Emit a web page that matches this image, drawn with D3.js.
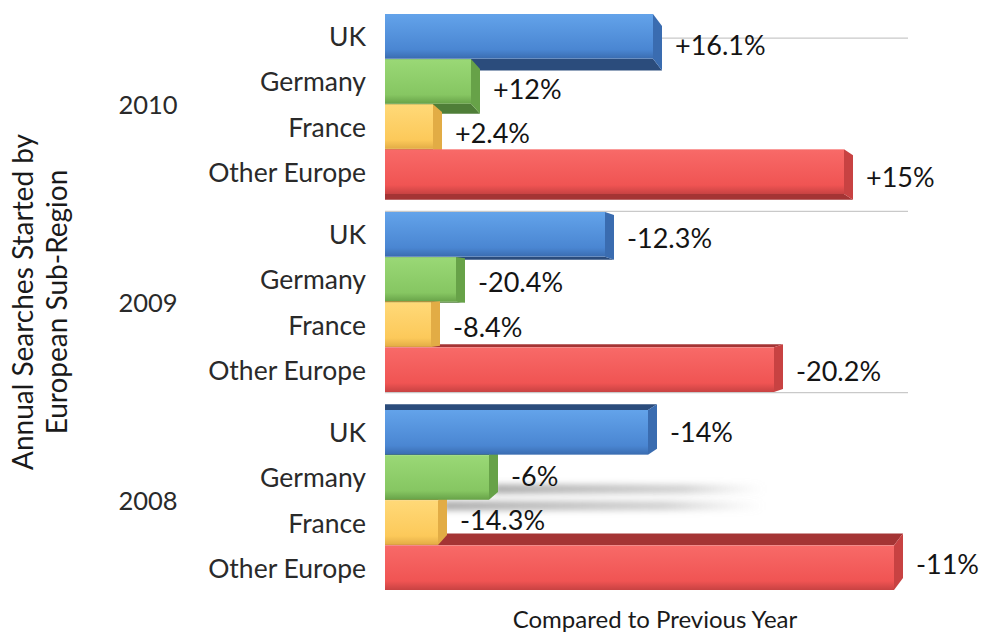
<!DOCTYPE html>
<html>
<head>
<meta charset="utf-8">
<script src="https://cdn.jsdelivr.net/npm/d3@7"></script>
<style>
  body { margin: 0; background: #fff; }
  text { font-family: "Lato", "Open Sans", sans-serif; }
</style>
</head>
<body>
<svg id="chart" width="984" height="635"></svg>
<script>
// Groups and categories
const years = ["2010", "2009", "2008"];
const regions = ["UK", "Germany", "France", "Other Europe"];

// Relative volume of annual searches started in each sub-region
const volume2010 = [277, 95, 57, 468];
const volume2009 = [229, 80, 55, 398];
const volume2008 = [272, 113, 62, 518];

// Change compared to the previous year
const change2010 = ["+16.1%", "+12%", "+2.4%", "+15%"];
const change2009 = ["-12.3%", "-20.4%", "-8.4%", "-20.2%"];
const change2008 = ["-14%", "-6%", "-14.3%", "-11%"];

const volumes = { "2010": volume2010, "2009": volume2009, "2008": volume2008 };
const changes = { "2010": change2010, "2009": change2009, "2008": change2008 };

const palette = {
  "UK":           { light: "#63a3ea", mid: "#4a86d2", dark: "#3a6cb0", deep: "#2b4c7c" },
  "Germany":      { light: "#9ad876", mid: "#86c662", dark: "#67a248", deep: "#4f7e38" },
  "France":       { light: "#ffd978", mid: "#fcc95a", dark: "#e2ac45", deep: "#b98a34" },
  "Other Europe": { light: "#f86a68", mid: "#f05453", dark: "#c84242", deep: "#a43434" }
};

const rows = years.flatMap(y => regions.map((r, i) => ({
  year: y, region: r, value: volumes[y][i], change: changes[y][i]
})));

const svg = d3.select("#chart");
const defs = svg.append("defs");

// Layout scales
const x = d3.scaleLinear().domain([0, 540]).range([385, 925]);
const yGroup = d3.scaleBand().domain(years).range([14, 590]).paddingInner(0.0909);
const yRow = d3.scaleBand().domain(regions).range([0, yGroup.bandwidth()]).paddingInner(0.01);

// Simple perspective: back faces drift toward the vertical centre of the plot
const vanishY = yGroup("2009") + yGroup.bandwidth() / 2;
const kDepth = 0.045;   // vertical drift of the back face
const kWall = 0.084;    // projection of group boundaries onto the back wall
const sideW = 9;        // visible width of each bar's end face

// Front face gradients
regions.forEach((r, i) => {
  const g = defs.append("linearGradient")
    .attr("id", "grad" + i).attr("x1", 0).attr("y1", 0).attr("x2", 0).attr("y2", 1);
  g.append("stop").attr("offset", "0%").attr("stop-color", palette[r].light);
  g.append("stop").attr("offset", "80%").attr("stop-color", palette[r].mid);
  g.append("stop").attr("offset", "100%").attr("stop-color", palette[r].dark);
});

// Soft floor shadow
const blur = defs.append("filter").attr("id", "soft")
  .attr("x", "-20%").attr("y", "-200%").attr("width", "140%").attr("height", "500%");
blur.append("feGaussianBlur").attr("stdDeviation", 3);
const fade = defs.append("linearGradient").attr("id", "fade")
  .attr("x1", 0).attr("x2", 1).attr("y1", 0).attr("y2", 0);
fade.append("stop").attr("offset", "0%").attr("stop-color", "#8a8a8a").attr("stop-opacity", 0.75);
fade.append("stop").attr("offset", "70%").attr("stop-color", "#9a9a9a").attr("stop-opacity", 0.45);
fade.append("stop").attr("offset", "100%").attr("stop-color", "#bbbbbb").attr("stop-opacity", 0);

// Back-wall grid lines at the group boundaries
const boundaries = [yGroup.range()[0]]
  .concat(years.slice(1).map(y => yGroup(y) - yGroup.step() * yGroup.paddingInner() / 2));
svg.append("g").selectAll("line").data(boundaries).join("line")
  .attr("x1", x(0)).attr("x2", 908)
  .attr("y1", d => d + (vanishY - d) * kWall)
  .attr("y2", d => d + (vanishY - d) * kWall)
  .attr("stroke", "#c9c9c9").attr("stroke-width", 1.2);

// Bar geometry
rows.forEach(d => {
  d.top = yGroup(d.year) + yRow(d.region);
  d.h = yRow.bandwidth();
  d.yc = d.top + d.h / 2;
  d.dy = (vanishY - d.yc) * kDepth;
  d.x0 = x(0);
  d.x1 = x(d.value) - sideW;
  d.idx = regions.indexOf(d.region);
});

// Shadows cast on the floor by the lower 2008 bars
const shadowRows = rows.filter(d => d.year === "2008" && (d.region === "Germany" || d.region === "France"));
svg.append("g").selectAll("rect").data(shadowRows).join("rect")
  .attr("x", d => x(d.value) - 4)
  .attr("y", d => d.region === "Germany" ? d.top + d.h * 0.66 : d.top + 1)
  .attr("width", d => d.region === "Germany" ? 270 : 320)
  .attr("height", 9)
  .attr("fill", "url(#fade)")
  .attr("filter", "url(#soft)");

// Draw bars farthest from the centre first so nearer ones overlap them
const order = rows.slice().sort((a, b) => Math.abs(b.yc - vanishY) - Math.abs(a.yc - vanishY));
const bars = svg.append("g").selectAll("g.bar").data(order).join("g").attr("class", "bar");

// Top or bottom face
bars.append("path")
  .attr("d", d => {
    const yEdge = d.dy > 0 ? d.top + d.h : d.top;
    return `M${d.x0},${yEdge}L${d.x1},${yEdge}L${d.x1 + sideW},${yEdge + d.dy}L${d.x0},${yEdge + d.dy}Z`;
  })
  .attr("fill", d => palette[d.region].deep);

// End face
bars.append("path")
  .attr("d", d => `M${d.x1},${d.top}L${d.x1 + sideW},${d.top + d.dy}L${d.x1 + sideW},${d.top + d.h + d.dy}L${d.x1},${d.top + d.h}Z`)
  .attr("fill", d => palette[d.region].dark);

// Front face
bars.append("rect")
  .attr("x", d => d.x0).attr("y", d => d.top)
  .attr("width", d => d.x1 - d.x0).attr("height", d => d.h)
  .attr("fill", d => `url(#grad${d.idx})`);

// Change labels
svg.append("g").selectAll("text").data(rows).join("text")
  .attr("x", d => x(d.value) + 13)
  .attr("y", d => d.yc + d.dy / 2 + 2)
  .attr("dominant-baseline", "central")
  .attr("font-size", 27)
  .attr("fill", "#141414")
  .text(d => d.change);

// Region labels
svg.append("g").selectAll("text").data(rows).join("text")
  .attr("x", 366)
  .attr("y", d => d.yc)
  .attr("dominant-baseline", "central")
  .attr("text-anchor", "end")
  .attr("font-size", 26.5)
  .attr("fill", "#2a2a2a")
  .text(d => d.region);

// Year labels
svg.append("g").selectAll("text").data(years).join("text")
  .attr("x", 148)
  .attr("y", d => yGroup(d) + yGroup.bandwidth() / 2)
  .attr("dominant-baseline", "central")
  .attr("text-anchor", "middle")
  .attr("font-size", 25.5)
  .attr("fill", "#2a2a2a")
  .text(d => d);

// Axis titles
const yTitle = svg.append("g").attr("transform", `translate(0,${vanishY}) rotate(-90)`);
yTitle.append("text").attr("x", 0).attr("y", 33).attr("text-anchor", "middle")
  .attr("font-size", 28).attr("fill", "#1a1a1a").text("Annual Searches Started by");
yTitle.append("text").attr("x", 0).attr("y", 67).attr("text-anchor", "middle")
  .attr("font-size", 28).attr("fill", "#1a1a1a").text("European Sub-Region");

svg.append("text")
  .attr("x", 655).attr("y", 628)
  .attr("text-anchor", "middle")
  .attr("font-size", 24).attr("fill", "#1a1a1a")
  .text("Compared to Previous Year");
</script>
</body>
</html>
